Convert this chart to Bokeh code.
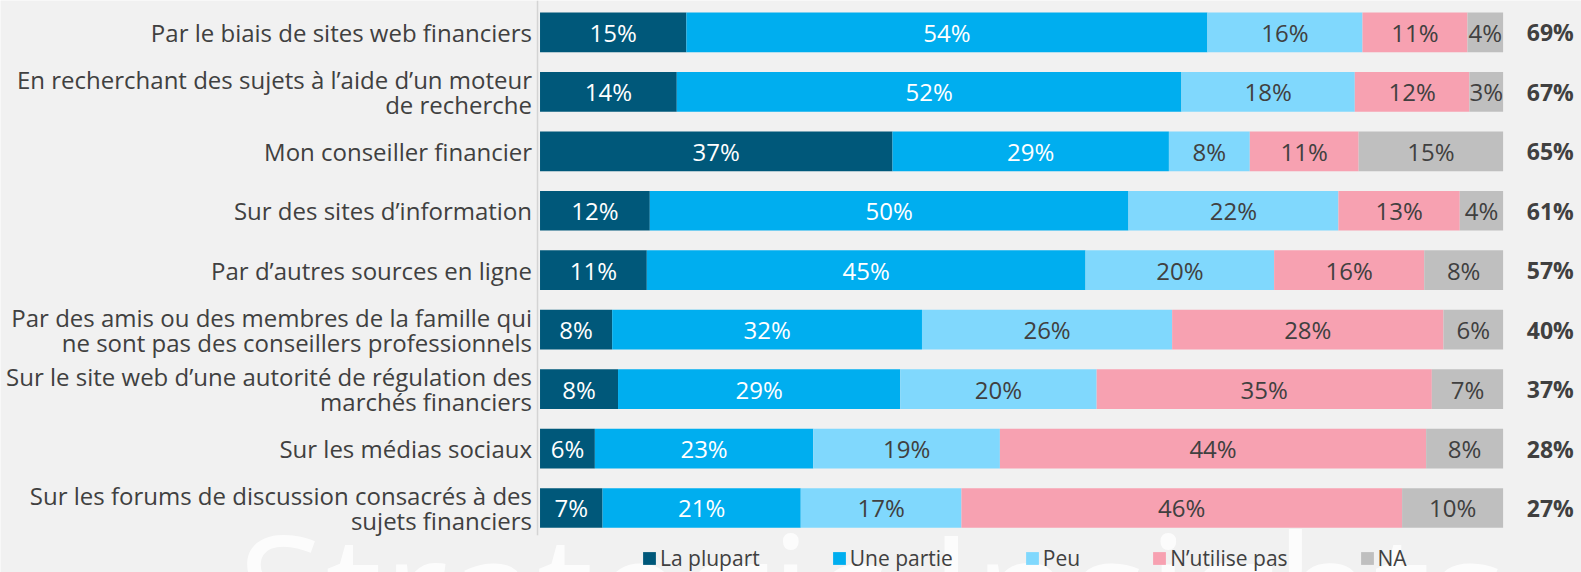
import numpy as np
from bokeh.plotting import figure
from bokeh.models import Range1d, ColumnDataSource, Legend, LegendItem
from bokeh.core.properties import value
from bokeh.embed import file_html
from bokeh.resources import INLINE

categories = [
    "Par le biais de sites web financiers",
    "En recherchant des sujets à l’aide d’un moteur\nde recherche",
    "Mon conseiller financier",
    "Sur des sites d’information",
    "Par d’autres sources en ligne",
    "Par des amis ou des membres de la famille qui\nne sont pas des conseillers professionnels",
    "Sur le site web d’une autorité de régulation des\nmarchés financiers",
    "Sur les médias sociaux",
    "Sur les forums de discussion consacrés à des\nsujets financiers",
]
series_names = ["La plupart", "Une partie", "Peu", "N’utilise pas", "NA"]

# displayed (rounded) labels
la_plupart = [15, 14, 37, 12, 11, 8, 8, 6, 7]
une_partie = [54, 52, 29, 50, 45, 32, 29, 23, 21]
peu = [16, 18, 8, 22, 20, 26, 20, 19, 17]
n_utilise_pas = [11, 12, 11, 13, 16, 28, 35, 44, 46]
na = [4, 3, 15, 4, 8, 6, 7, 8, 10]
totals = [69, 67, 65, 61, 57, 40, 37, 28, 27]

# bar shares (unrounded)
la_plupart_share = [15.2, 14.2, 36.6, 11.4, 11.1, 7.5, 8.1, 5.7, 6.5]
une_partie_share = [54.1, 52.4, 28.7, 49.7, 45.6, 32.2, 29.3, 22.7, 20.6]
peu_share = [16.1, 18.0, 8.4, 21.8, 19.6, 26.0, 20.4, 19.4, 16.7]
n_utilise_pas_share = [10.9, 11.9, 11.3, 12.6, 15.6, 28.2, 34.8, 44.3, 45.8]
na_share = [3.7, 3.5, 15.0, 4.5, 8.2, 6.2, 7.4, 8.0, 10.5]

colors = ["#00587a", "#00aeef", "#80d8fd", "#f7a1b1", "#bfbfbf"]
text_colors = ["#ffffff", "#ffffff", "#404040", "#404040", "#404040"]
FONT = value("Open Sans")
BG = "#f1f1f1"

W, H = 1581, 572
p = figure(width=W, height=H, output_backend="svg", toolbar_location=None,
           x_range=Range1d(-56.02, 108.14), y_range=Range1d(9.085, -0.537),
           x_axis_location=None, y_axis_location=None,
           min_border=0, min_border_left=0, min_border_right=0,
           min_border_top=0, min_border_bottom=0)
p.grid.visible = False
p.outline_line_color = None
p.background_fill_color = BG
p.border_fill_color = BG

ys = np.arange(len(categories))

# watermark
p.text(x=[-31.4], y=[7.52], text=["Strategic Insights"], text_font=FONT,
       text_font_size="160px", text_color="white", text_alpha=0.8,
       text_baseline="top", text_align="left")

labels = [la_plupart, une_partie, peu, n_utilise_pas, na]
shares = [la_plupart_share, une_partie_share, peu_share, n_utilise_pas_share, na_share]
arr = np.array(shares, dtype=float)
norm = arr / arr.sum(axis=0) * 100
cum = np.vstack([np.zeros(len(categories)), np.cumsum(norm, axis=0)])

renderers = []
for k, name in enumerate(series_names):
    src = ColumnDataSource(dict(y=ys, left=cum[k], right=cum[k + 1],
                                mid=(cum[k] + cum[k + 1]) / 2,
                                lab=[f"{v}%" for v in labels[k]]))
    r = p.hbar(y="y", left="left", right="right", height=0.668, source=src,
               fill_color=colors[k], line_color=None)
    renderers.append(r)
    p.text(x="mid", y="y", text="lab", source=src, text_font=FONT,
           text_font_size="24px", text_color=text_colors[k],
           text_align="center", text_baseline="middle")

# axis line
p.segment(x0=[-0.26], x1=[-0.26], y0=[-0.537], y1=[8.46],
          line_color="#d4d4d4", line_width=1.5)

# category labels
p.text(x=np.full(len(categories), -0.83), y=ys, text=categories, text_font=FONT,
       text_font_size="24px", text_color="#404040", text_align="right",
       text_baseline="middle", text_line_height=0.75)

# totals
p.text(x=np.full(len(categories), 104.9), y=ys, text=[f"{t}%" for t in totals],
       text_font=FONT, text_font_size="23px", text_font_style="bold",
       text_color="#404040", text_align="center", text_baseline="middle")

legend = Legend(items=[LegendItem(label=n, renderers=[r]) for n, r in zip(series_names, renderers)],
                orientation="horizontal", location=(641, 0),
                background_fill_alpha=0, border_line_color=None,
                padding=0, margin=0, spacing=71, label_standoff=3,
                glyph_width=16, glyph_height=16, label_height=16,
                label_text_font="Open Sans", label_text_font_size="21px",
                label_text_color="#404040")
p.add_layout(legend)

open("out.html", "w").write(file_html(p, INLINE))
